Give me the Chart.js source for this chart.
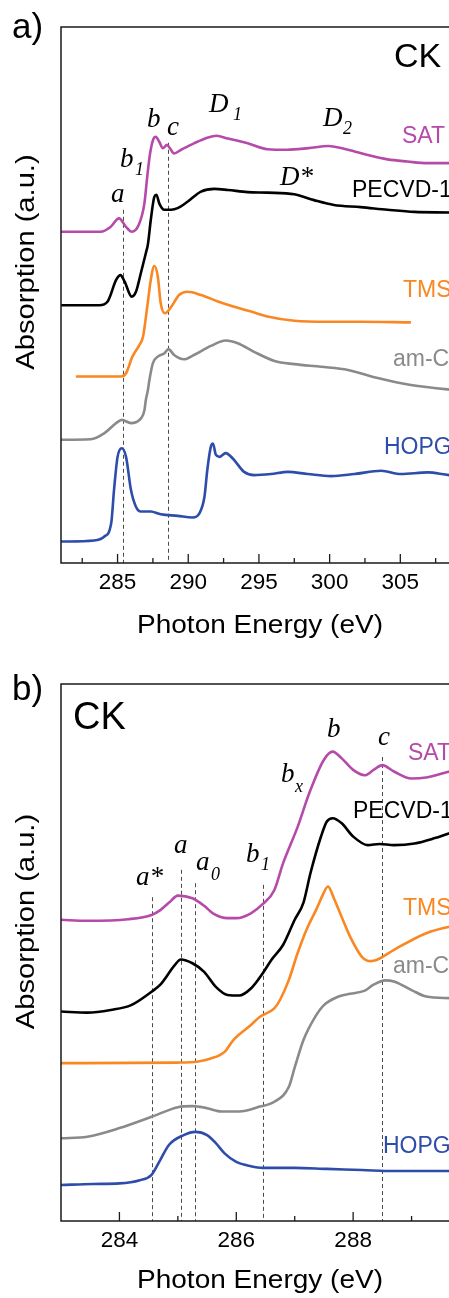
<!DOCTYPE html>
<html>
<head>
<meta charset="utf-8">
<script src="https://cdn.jsdelivr.net/npm/chart.js@4.4.1/dist/chart.umd.min.js"></script>
<style>
  html, body { margin: 0; padding: 0; background: #fff; overflow: hidden; width: 449px; height: 1298px; }
  canvas { position: absolute; left: 0; display: block; }
  #panelA { top: 0; }
  #panelB { top: 649px; }
</style>
</head>
<body>
<canvas id="panelA" width="480" height="649"></canvas>
<canvas id="panelB" width="480" height="649"></canvas>
<script>
// ---------- Panel a: C K-edge, wide range (281–310 eV) ----------
const ticksA  = [282.5, 285, 287.5, 290, 292.5, 295, 297.5, 300, 302.5, 305, 307.5];
const majorsA = [285, 290, 295, 300, 305];

const satE_a = [281.0, 283.8, 284.5, 285.1, 285.6, 286.0, 286.5, 286.9, 287.1, 287.3, 287.55, 287.7, 287.95, 288.2, 288.5, 288.7, 289.0, 289.5, 290.4, 291.4, 292.0, 292.8, 294.2, 295.6, 297.0, 298.5, 299.9, 301.3, 302.7, 304.1, 305.5, 306.9, 308.4, 310.0];
const satV_a = [61.8, 61.8, 62.7, 64.3, 62.7, 61.8, 63.1, 67.1, 72.1, 76.4, 79.2, 79.5, 78.6, 77.4, 78.0, 77.4, 76.4, 77.1, 78.3, 79.4, 79.7, 79.2, 78.3, 77.2, 77.1, 77.4, 77.8, 77.1, 76.1, 75.3, 74.9, 74.6, 74.6, 74.6];

const pecE_a = [281.0, 283.7, 284.3, 284.9, 285.2, 285.5, 286.0, 286.3, 286.65, 287.0, 287.15, 287.35, 287.6, 287.75, 287.95, 288.3, 288.8, 289.25, 289.95, 290.9, 291.85, 292.8, 294.2, 295.6, 297.5, 298.9, 300.3, 302.2, 304.1, 306.0, 308.4, 310.0];
const pecV_a = [48.1, 48.1, 48.8, 52.8, 53.7, 52.5, 49.7, 50.6, 54.1, 57.8, 59.5, 64.0, 68.3, 68.7, 67.1, 65.9, 65.9, 66.2, 67.4, 69.3, 69.8, 69.6, 69.2, 69.1, 68.8, 67.7, 66.8, 66.4, 65.9, 65.5, 65.4, 65.3];

const tmsE_a = [282.05, 285.25, 285.6, 286.05, 286.55, 286.8, 287.1, 287.35, 287.6, 287.85, 288.05, 288.35, 288.8, 289.35, 289.95, 290.9, 292.1, 293.25, 294.45, 295.6, 297.5, 299.85, 302.2, 305.75];
const tmsV_a = [34.8, 34.8, 35.4, 38.5, 40.7, 42.2, 47.8, 52.8, 55.4, 53.4, 48.5, 46.6, 47.8, 50.0, 50.6, 50.0, 48.8, 47.8, 46.9, 46.0, 45.2, 45.0, 45.0, 44.9];

const amcE_a = [281.0, 283.1, 284.05, 284.9, 285.3, 285.95, 286.55, 286.9, 287.0, 287.15, 287.25, 287.5, 287.85, 288.3, 288.6, 289.0, 289.7, 290.4, 291.6, 292.65, 293.5, 294.65, 296.1, 297.5, 299.4, 301.3, 303.4, 305.75, 308.35, 310.0];
const amcV_a = [23.0, 23.1, 24.2, 26.1, 26.7, 26.1, 26.7, 28.5, 30.4, 32.3, 34.1, 37.3, 38.5, 39.1, 39.9, 38.8, 38.0, 38.8, 40.5, 41.5, 41.0, 39.4, 37.7, 37.1, 36.6, 36.0, 34.5, 33.2, 32.4, 32.1];

const hopE_a = [281.0, 283.35, 284.05, 284.55, 284.75, 285.0, 285.3, 285.6, 285.95, 286.3, 286.65, 287.35, 288.05, 289.25, 290.3, 290.8, 291.15, 291.35, 291.6, 291.75, 291.95, 292.2, 292.65, 293.15, 293.95, 294.65, 295.85, 297.05, 298.45, 300.1, 301.75, 303.65, 305.05, 306.95, 308.45, 310.0];
const hopV_a = [4.0, 4.2, 4.9, 7.4, 13.6, 19.8, 21.4, 19.8, 13.6, 10.5, 9.6, 9.6, 9.1, 8.8, 8.5, 9.3, 12.4, 17.4, 21.7, 22.3, 20.2, 19.8, 20.5, 19.5, 17.0, 16.4, 16.6, 17.0, 16.6, 16.2, 16.6, 17.2, 16.6, 16.9, 16.4, 16.3];

const guidesA    = [285.35, 288.6];
const guideTopsA = [65.9, 78.4];

// ---------- Panel b: C K-edge, near-edge detail (283–290 eV) ----------
const ticksB  = [284, 285, 286, 287, 288, 289];
const majorsB = [284, 286, 288];

const satE_b = [283.0, 283.45, 284.15, 284.55, 284.7, 284.85, 285.0, 285.25, 285.45, 285.6, 285.85, 286.0, 286.25, 286.45, 286.65, 286.8, 287.05, 287.25, 287.5, 287.65, 287.8, 288.0, 288.2, 288.35, 288.5, 288.7, 289.0, 289.25, 289.65, 290.0];
const satV_b = [56.1, 55.9, 56.2, 57.0, 57.9, 59.3, 60.6, 60.1, 58.7, 57.3, 56.4, 56.4, 57.3, 59.0, 61.6, 66.6, 73.4, 79.7, 85.9, 87.4, 86.2, 84.0, 83.0, 84.0, 84.9, 83.7, 82.4, 82.6, 83.7, 84.5];

const pecE_b = [283.0, 283.45, 283.85, 284.2, 284.55, 284.7, 284.95, 285.05, 285.25, 285.45, 285.65, 285.85, 286.05, 286.25, 286.45, 286.6, 286.8, 287.0, 287.15, 287.27, 287.45, 287.55, 287.65, 287.8, 288.0, 288.25, 288.45, 288.7, 289.05, 289.4, 289.65, 290.0];
const pecV_b = [39.0, 38.8, 39.3, 40.2, 42.7, 44.0, 47.7, 48.7, 48.0, 46.4, 43.6, 42.1, 42.0, 43.3, 46.1, 48.6, 51.4, 56.1, 59.3, 64.8, 71.6, 74.4, 75.0, 74.1, 71.6, 70.0, 70.2, 70.0, 70.3, 71.3, 72.2, 73.2];

const tmsE_b = [283.0, 285.0, 285.35, 285.55, 285.8, 285.95, 286.25, 286.4, 286.65, 286.75, 286.9, 287.05, 287.2, 287.39, 287.47, 287.57, 287.67, 287.77, 287.85, 287.95, 288.15, 288.3, 288.4, 288.7, 289.25, 289.65, 290.0];
const tmsV_b = [29.4, 29.5, 29.7, 30.2, 31.5, 33.7, 36.5, 38.0, 39.6, 41.2, 44.9, 49.9, 54.2, 58.5, 60.5, 62.3, 60.1, 57.5, 55.4, 52.9, 49.2, 48.4, 48.6, 50.5, 53.6, 54.8, 55.3];

const amcE_b = [283.0, 283.45, 284.0, 284.55, 285.0, 285.25, 285.5, 285.75, 286.05, 286.4, 286.65, 286.9, 287.0, 287.15, 287.35, 287.5, 287.75, 287.95, 288.2, 288.35, 288.55, 288.7, 289.0, 289.25, 289.65, 290.0];
const amcV_b = [15.4, 15.7, 17.3, 19.4, 21.2, 21.4, 21.0, 20.4, 20.4, 21.3, 22.2, 25.0, 28.6, 33.7, 38.0, 40.2, 41.8, 42.3, 42.9, 44.0, 44.8, 44.6, 43.0, 41.8, 41.5, 41.4];

const hopE_b = [283.0, 283.55, 284.0, 284.35, 284.55, 284.7, 284.85, 285.1, 285.3, 285.5, 285.65, 285.8, 286.0, 286.25, 286.45, 287.0, 287.55, 288.15, 288.7, 289.65, 290.0];
const hopV_b = [6.7, 6.9, 7.0, 7.6, 8.6, 11.4, 14.2, 16.0, 16.6, 16.0, 14.5, 12.6, 11.0, 10.2, 9.9, 9.9, 9.7, 9.5, 9.3, 9.3, 9.3];

const guidesB    = [284.55, 285.05, 285.3, 286.45, 288.5];
const guideTopsB = [60.3, 65.4, 62.9, 62.6, 86.4];

// ---------- styling ----------
const SANS  = "'Liberation Sans', Arial, Helvetica, sans-serif";
const SERIF = "'Liberation Serif', 'Times New Roman', serif";
const C_SAT = '#b54aa9', C_PEC = '#000000', C_TMS = '#f98722', C_AMC = '#8a8a8a', C_HOP = '#2e4dab';

function series(E, V, color) {
  return {
    data: E.map((e, i) => ({ x: e, y: V[i] })),
    borderColor: color,
    borderWidth: 2.6,
    pointRadius: 0,
    fill: false,
    cubicInterpolationMode: 'monotone'
  };
}

function drawText(ctx, it) {
  ctx.save();
  ctx.font = it.font;
  ctx.fillStyle = it.color || '#000';
  ctx.textAlign = it.align || 'left';
  ctx.textBaseline = 'alphabetic';
  ctx.translate(it.x, it.y);
  if (it.rot) ctx.rotate(it.rot);
  ctx.scale(it.sx || 1, 1);
  ctx.fillText(it.t, 0, 0);
  ctx.restore();
}

// frame, inward ticks, dashed guide lines and labels
const framePlugin = {
  id: 'frame',
  beforeDatasetsDraw(chart, args, o) {
    const { ctx, chartArea: a, scales: { x, y } } = chart;
    ctx.save();
    ctx.strokeStyle = '#4a4a4a';
    ctx.lineWidth = 1;
    ctx.setLineDash([4, 3]);
    o.guides.forEach((e, i) => {
      const px = Math.round(x.getPixelForValue(e)) + 0.5;
      ctx.beginPath();
      ctx.moveTo(px, y.getPixelForValue(o.guideTops[i]));
      ctx.lineTo(px, a.bottom);
      ctx.stroke();
    });
    ctx.restore();
  },
  afterDatasetsDraw(chart, args, o) {
    const { ctx, chartArea: a, scales: { x } } = chart;
    ctx.save();
    ctx.strokeStyle = '#1a1a1a';
    ctx.lineWidth = 1.5;
    ctx.beginPath();
    ctx.moveTo(a.left, a.bottom);
    ctx.lineTo(a.left, a.top);
    ctx.lineTo(a.right, a.top);
    ctx.lineTo(a.right, a.bottom);
    ctx.closePath();
    ctx.stroke();
    ctx.lineWidth = 1.3;
    x.ticks.forEach(t => {
      const px = x.getPixelForValue(t.value);
      const len = o.majors.includes(t.value) ? 9 : 5;
      ctx.beginPath();
      ctx.moveTo(px, a.bottom);
      ctx.lineTo(px, a.bottom - len);
      ctx.stroke();
    });
    ctx.restore();
    o.texts.forEach(it => drawText(ctx, it));
  }
};

const F_LBL = `23px ${SANS}`;
const F_IT  = `italic 27px ${SERIF}`;
const F_SUB = `italic 18px ${SERIF}`;
const F_AX  = `25px ${SANS}`;
const F_AY  = `26px ${SANS}`;

const textsA = [
  { t: 'a)', x: 12, y: 38, font: `35px ${SANS}` },
  { t: 'CK', x: 394, y: 67, font: `34px ${SANS}` },
  { t: 'SAT', x: 402, y: 143, font: F_LBL, color: C_SAT },
  { t: 'PECVD-1', x: 352, y: 197, font: F_LBL, color: C_PEC },
  { t: 'TMS', x: 403, y: 297, font: F_LBL, color: C_TMS },
  { t: 'am-C', x: 393, y: 366, font: F_LBL, color: C_AMC },
  { t: 'HOPG', x: 384, y: 454, font: F_LBL, color: C_HOP },
  { t: 'a', x: 111, y: 202, font: F_IT },
  { t: 'b', x: 120, y: 167, font: F_IT },
  { t: '1', x: 135, y: 175, font: F_SUB },
  { t: 'b', x: 147, y: 127, font: F_IT },
  { t: 'c', x: 167, y: 135, font: F_IT },
  { t: 'D', x: 209, y: 112, font: F_IT },
  { t: '1', x: 233, y: 120, font: F_SUB },
  { t: 'D', x: 323, y: 126, font: F_IT },
  { t: '2', x: 343, y: 134, font: F_SUB },
  { t: 'D*', x: 280, y: 185, font: F_IT },
  { t: 'Photon Energy (eV)', x: 260, y: 633, font: F_AX, align: 'center', sx: 1.12 },
  { t: 'Absorption (a.u.)', x: 33.5, y: 262, font: F_AY, align: 'center', rot: -Math.PI / 2, sx: 1.12 }
];

const textsB = [
  { t: 'b)', x: 12, y: 51, font: `35px ${SANS}` },
  { t: 'CK', x: 73, y: 80, font: `38px ${SANS}` },
  { t: 'SAT', x: 408, y: 111, font: F_LBL, color: C_SAT },
  { t: 'PECVD-1', x: 353, y: 169, font: F_LBL, color: C_PEC },
  { t: 'TMS', x: 403, y: 266, font: F_LBL, color: C_TMS },
  { t: 'am-C', x: 393, y: 324, font: F_LBL, color: C_AMC },
  { t: 'HOPG', x: 383, y: 504, font: F_LBL, color: C_HOP },
  { t: 'a*', x: 136, y: 236, font: F_IT },
  { t: 'a', x: 174, y: 204, font: F_IT },
  { t: 'a', x: 196, y: 221, font: F_IT },
  { t: '0', x: 211, y: 231, font: F_SUB },
  { t: 'b', x: 246, y: 213, font: F_IT },
  { t: '1', x: 261, y: 221, font: F_SUB },
  { t: 'b', x: 281, y: 133, font: F_IT },
  { t: 'x', x: 295, y: 143, font: F_SUB },
  { t: 'b', x: 327, y: 88, font: F_IT },
  { t: 'c', x: 378, y: 96, font: F_IT },
  { t: 'Photon Energy (eV)', x: 260, y: 639, font: F_AX, align: 'center', sx: 1.12 },
  { t: 'Absorption (a.u.)', x: 33.5, y: 272.5, font: F_AY, align: 'center', rot: -Math.PI / 2, sx: 1.12 }
];

function makePanel(id, cfg) {
  return new Chart(document.getElementById(id), {
    type: 'line',
    data: { datasets: cfg.datasets },
    options: {
      responsive: false,
      animation: false,
      devicePixelRatio: 1,
      layout: { padding: cfg.padding },
      plugins: {
        legend: { display: false },
        tooltip: { enabled: false },
        frame: { guides: cfg.guides, guideTops: cfg.guideTops, majors: cfg.majors, texts: cfg.texts }
      },
      scales: {
        x: {
          type: 'linear',
          min: cfg.min,
          max: cfg.max,
          grid: { display: false, drawTicks: false },
          border: { display: false },
          afterBuildTicks: s => { s.ticks = cfg.ticks.map(v => ({ value: v })); },
          afterFit: s => { s.height = cfg.axisH; },
          ticks: {
            autoSkip: false,
            maxRotation: 0,
            padding: 6,
            color: '#000',
            font: { family: SANS, size: 22.5 },
            callback: v => cfg.majors.includes(v) ? String(v) : ''
          }
        },
        y: { display: false, min: 0, max: 100 }
      }
    },
    plugins: [framePlugin]
  });
}

makePanel('panelA', {
  min: 281, max: 310, ticks: ticksA, majors: majorsA,
  padding: { left: 61, right: 9, top: 27, bottom: 0 }, axisH: 86,
  guides: guidesA, guideTops: guideTopsA, texts: textsA,
  datasets: [
    series(hopE_a, hopV_a, C_HOP),
    series(amcE_a, amcV_a, C_AMC),
    series(tmsE_a, tmsV_a, C_TMS),
    series(pecE_a, pecV_a, C_PEC),
    series(satE_a, satV_a, C_SAT)
  ]
});

makePanel('panelB', {
  min: 283, max: 290, ticks: ticksB, majors: majorsB,
  padding: { left: 61, right: 10, top: 35, bottom: 0 }, axisH: 77,
  guides: guidesB, guideTops: guideTopsB, texts: textsB,
  datasets: [
    series(hopE_b, hopV_b, C_HOP),
    series(amcE_b, amcV_b, C_AMC),
    series(tmsE_b, tmsV_b, C_TMS),
    series(pecE_b, pecV_b, C_PEC),
    series(satE_b, satV_b, C_SAT)
  ]
});
</script>
</body>
</html>
